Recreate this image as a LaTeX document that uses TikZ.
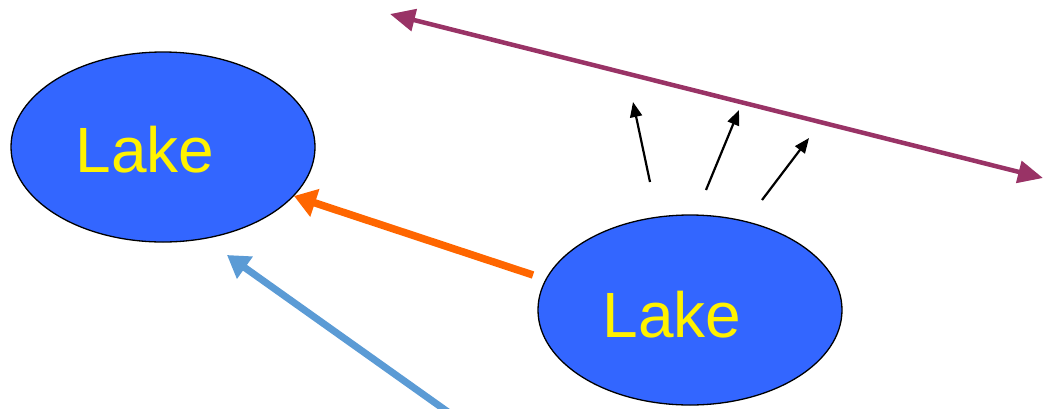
\documentclass[tikz,border=0pt]{standalone}
\usepackage{fontspec}
\setmainfont{Liberation Sans}
\usetikzlibrary{arrows.meta,shapes.geometric}
\definecolor{lakeblue}{HTML}{3366FF}
\definecolor{plum}{HTML}{993366}
\definecolor{orng}{HTML}{FF6600}
\definecolor{skyb}{HTML}{5B9BD5}
\tikzset{
  lake/.style={ellipse, draw=black, line width=1.3pt, fill=lakeblue, minimum width=304pt, minimum height=190pt, inner sep=0pt},
  laketext/.style={text=yellow, font=\fontsize{64}{64}\selectfont, inner sep=0pt},
  thin arrow/.style={line width=2.2pt, -{Triangle[length=15pt,width=12pt]}},
}
\begin{document}
\begin{tikzpicture}[x=1pt,y=-1pt]
\useasboundingbox (0,0) rectangle (1052,408);
\node[lake] (L1) at (163,147) {};
\node[laketext] (T1) at (145,150) {Lake};
\node[lake] (L2) at (690,310) {};
\node[laketext] (T2) at (672,315) {Lake};
\coordinate (pA) at (390,14);
\coordinate (pB) at (1043,178);
\draw[plum, line width=4.5pt, {Triangle[length=25pt,width=22pt]}-{Triangle[length=25pt,width=22pt]}] (pA) -- (pB);
\coordinate (oS) at (533,275);
\coordinate (oE) at (294,196);
\draw[orng, line width=7.5pt, -{Triangle[length=22pt,width=28pt]}] (oS) -- (oE);
\coordinate (bS) at (448,412);
\coordinate (bE) at (227,255);
\draw[skyb, line width=7pt, -{Triangle[length=22pt,width=26pt]}] (bS) -- (bE);
\coordinate (k1s) at (650,182); \coordinate (k1e) at (633,102);
\coordinate (k2s) at (706,190); \coordinate (k2e) at (739,110);
\coordinate (k3s) at (762,200); \coordinate (k3e) at (809,138);
\draw[thin arrow] (k1s) -- (k1e);
\draw[thin arrow] (k2s) -- (k2e);
\draw[thin arrow] (k3s) -- (k3e);
\end{tikzpicture}
\end{document}
